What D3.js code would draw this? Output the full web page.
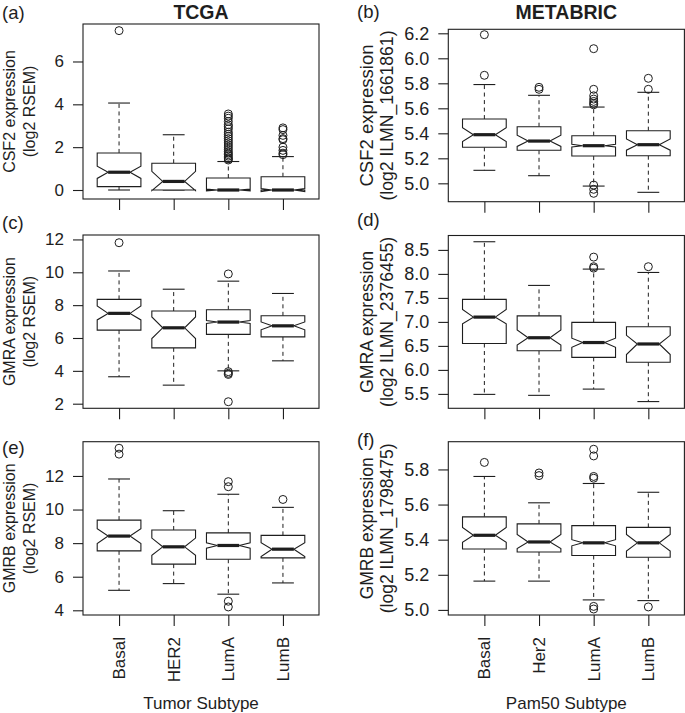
<!DOCTYPE html>
<html><head><meta charset="utf-8">
<script src="https://cdn.jsdelivr.net/npm/d3@7"></script>
<style>body{margin:0;background:#fff}svg{display:block}</style>
</head><body><svg id="c" width="685" height="713"></svg>
<script>
// ---------- DATA ----------
const tcgaGroups = ["Basal", "HER2", "LumA", "LumB"];
const metabricGroups = ["Basal", "Her2", "LumA", "LumB"];

// box stats per group: [lower whisker, Q1, median, Q3, upper whisker]
const csf2TcgaStats = [[0.0, 0.16, 0.83, 1.73, 4.06], [0.0, 0.0, 0.40, 1.25, 2.58], [0, 0, 0, 0.56, 1.33], [0, 0, 0, 0.62, 1.56]];
const csf2TcgaConf = [[0.54, 1.11], [-0.03, 0.87], [-0.04, 0.04], [-0.07, 0.07]];
const csf2TcgaOut = [[7.44], [], [3.55, 3.45, 3.35, 3.2, 3.05, 2.95, 2.85, 2.7, 2.6, 2.5, 2.4, 2.3, 2.2, 2.1, 2.0, 1.9, 1.8, 1.72, 1.65, 1.58, 1.5, 1.45, 1.4], [2.9, 2.82, 2.55, 2.4, 2.35, 2.0, 1.85, 1.72, 1.65]];
const csf2TcgaTicks = [0, 2, 4, 6];

const csf2MetaStats = [[5.104, 5.288, 5.389, 5.514, 5.79], [5.061, 5.264, 5.338, 5.453, 5.704], [4.978, 5.218, 5.301, 5.381, 5.61], [4.928, 5.221, 5.309, 5.421, 5.728]];
const csf2MetaConf = [[5.335, 5.445], [5.295, 5.385], [5.29, 5.312], [5.265, 5.355]];
const csf2MetaOut = [[6.189, 5.864], [5.768, 5.752], [6.077, 5.752, 5.70, 5.674, 5.655, 5.64, 5.628, 4.986, 4.952, 4.92], [5.84, 5.752]];
const csf2MetaTicks = [5.0, 5.2, 5.4, 5.6, 5.8, 6.0, 6.2];

const gmraTcgaStats = [[3.64, 6.48, 7.5, 8.35, 10.08], [3.13, 5.40, 6.62, 7.64, 8.97], [4.0, 6.22, 6.97, 7.72, 9.46], [4.61, 6.07, 6.74, 7.35, 8.71]];
const gmraTcgaConf = [[7.1, 7.95], [5.97, 7.28], [6.88, 7.06], [6.5, 6.98]];
const gmraTcgaOut = [[11.8], [], [9.9, 3.95, 3.85, 3.78, 2.12], []];
const gmraTcgaTicks = [2, 4, 6, 8, 10, 12];

const gmraMetaStats = [[5.49, 6.55, 7.10, 7.47, 8.67], [5.47, 6.40, 6.67, 7.125, 7.76], [5.60, 6.26, 6.57, 6.99, 8.10], [5.34, 6.16, 6.54, 6.90, 8.03]];
const gmraMetaConf = [[6.96, 7.26], [6.52, 6.83], [6.47, 6.66], [6.32, 6.72]];
const gmraMetaOut = [[], [], [8.35, 8.15, 8.12], [8.15]];
const gmraMetaTicks = [5.5, 6.0, 6.5, 7.0, 7.5, 8.0, 8.5];

const gmrbTcgaStats = [[5.19, 7.54, 8.42, 9.37, 11.82], [5.59, 6.75, 7.78, 8.78, 9.93], [4.96, 7.04, 7.86, 8.61, 10.91], [5.63, 7.12, 7.64, 8.46, 10.13]];
const gmrbTcgaConf = [[7.98, 8.86], [7.28, 8.3], [7.7, 8.02], [7.2, 8.02]];
const gmrbTcgaOut = [[13.65, 13.3], [], [11.66, 11.36, 4.54, 4.2], [10.6]];
const gmrbTcgaTicks = [4, 6, 8, 10, 12];

const gmrbMetaStats = [[5.164, 5.347, 5.425, 5.53, 5.76], [5.164, 5.33, 5.387, 5.49, 5.61], [5.057, 5.31, 5.382, 5.48, 5.72], [5.053, 5.30, 5.382, 5.47, 5.67]];
const gmrbMetaConf = [[5.385, 5.47], [5.35, 5.43], [5.365, 5.40], [5.335, 5.43]];
const gmrbMetaOut = [[5.84], [5.78, 5.765], [5.915, 5.877, 5.76, 5.75, 5.02, 5.005], [5.017]];
const gmrbMetaTicks = [5.0, 5.2, 5.4, 5.6, 5.8];

// ---------- LAYOUT ----------
const svg = d3.select("#c");
const ink = "#1e1e1e";
const FONT = "'Liberation Sans', Arial, Helvetica, sans-serif";

const cols = [
  {x0: 83, x1: 319, tickFont: 17, labFont: 16, lab1: 15, lab2: 34.5, len: null, tickFmt: d3.format("d"), groups: tcgaGroups, title: "TCGA", xtitle: "Tumor Subtype", plx: 2},
  {x0: 448.3, x1: 684.4, tickFont: 18, labFont: 17.5, lab1: 373, lab2: 393, len: [142, 170], tickFmt: d3.format(".1f"), groups: metabricGroups, title: "METABRIC", xtitle: "Pam50 Subtype", plx: 357}
];

const panels = [
  {tag: "(a)", col: 0, y0: 24, y1: 199, dom: [-0.42, 7.75], stats: csf2TcgaStats, conf: csf2TcgaConf, out: csf2TcgaOut, ticks: csf2TcgaTicks, ylab: ["CSF2 expression", "(log2 RSEM)"], tagY: 19, xlabels: false},
  {tag: "(b)", col: 1, y0: 29.3, y1: 201.7, dom: [4.853, 6.232], stats: csf2MetaStats, conf: csf2MetaConf, out: csf2MetaOut, ticks: csf2MetaTicks, ylab: ["CSF2 expression", "(log2 ILMN_1661861)"], tagY: 18, xlabels: false},
  {tag: "(c)", col: 0, y0: 235, y1: 408.3, dom: [1.72, 12.27], stats: gmraTcgaStats, conf: gmraTcgaConf, out: gmraTcgaOut, ticks: gmraTcgaTicks, ylab: ["GMRA expression", "(log2 RSEM)"], tagY: 229, xlabels: false},
  {tag: "(d)", col: 1, y0: 235.5, y1: 408.3, dom: [5.20, 8.80], stats: gmraMetaStats, conf: gmraMetaConf, out: gmraMetaOut, ticks: gmraMetaTicks, ylab: ["GMRA expression", "(log2 ILMN_2376455)"], tagY: 226, xlabels: false},
  {tag: "(e)", col: 0, y0: 441.7, y1: 615, dom: [3.72, 14.04], stats: gmrbTcgaStats, conf: gmrbTcgaConf, out: gmrbTcgaOut, ticks: gmrbTcgaTicks, ylab: ["GMRB expression", "(log2 RSEM)"], tagY: 454, xlabels: true},
  {tag: "(f)", col: 1, y0: 441.7, y1: 615, dom: [4.971, 5.958], stats: gmrbMetaStats, conf: gmrbMetaConf, out: gmrbMetaOut, ticks: gmrbMetaTicks, ylab: ["GMRB expression", "(log2 ILMN_1798475)"], tagY: 446, xlabels: true}
];

panels.forEach(p => {
  const c = cols[p.col];
  const x = d3.scaleLinear().domain([0.34, 4.66]).range([c.x0, c.x1]);
  const y = d3.scaleLinear().domain(p.dom).range([p.y1, p.y0]);
  const g = svg.append("g");
  const half = 0.4, nf = 0.5, staple = 0.2;

  p.stats.forEach((s, i) => {
    const cx = i + 1;
    const [lw, q1, med, q3, uw] = s;
    const [c1, c2] = p.conf[i];
    g.append("line").attr("x1", x(cx)).attr("x2", x(cx)).attr("y1", y(q3)).attr("y2", y(uw))
      .attr("stroke", ink).attr("stroke-width", 1).attr("stroke-dasharray", "4,3.5");
    g.append("line").attr("x1", x(cx)).attr("x2", x(cx)).attr("y1", y(q1)).attr("y2", y(lw))
      .attr("stroke", ink).attr("stroke-width", 1).attr("stroke-dasharray", "4,3.5");
    [uw, lw].forEach(v => g.append("line").attr("x1", x(cx - staple)).attr("x2", x(cx + staple))
      .attr("y1", y(v)).attr("y2", y(v)).attr("stroke", ink).attr("stroke-width", 1.1));
    const xs = [-1, 1, 1, nf, 1, 1, -1, -1, -nf, -1].map(k => x(cx + half * k));
    const ys = [q1, q1, c1, med, c2, q3, q3, c2, med, c1].map(v => y(v));
    g.append("path").attr("d", "M" + xs.map((xv, k) => xv + "," + ys[k]).join("L") + "Z")
      .attr("fill", "#fff").attr("stroke", ink).attr("stroke-width", 1.1).attr("stroke-linejoin", "miter");
    g.append("line").attr("x1", x(cx - half * nf)).attr("x2", x(cx + half * nf)).attr("y1", y(med)).attr("y2", y(med))
      .attr("stroke", ink).attr("stroke-width", 3.2);
    p.out[i].forEach(v => g.append("circle").attr("cx", x(cx)).attr("cy", y(v)).attr("r", 4)
      .attr("fill", "none").attr("stroke", ink).attr("stroke-width", 1));
  });

  g.append("rect").attr("x", c.x0).attr("y", p.y0).attr("width", c.x1 - c.x0).attr("height", p.y1 - p.y0)
    .attr("fill", "none").attr("stroke", ink).attr("stroke-width", 1.1);

  const ya = g.append("g").attr("transform", `translate(${c.x0},0)`)
    .call(d3.axisLeft(y).tickValues(p.ticks).tickFormat(c.tickFmt).tickSize(10).tickPadding(9));
  ya.select(".domain").remove();
  ya.selectAll("line").attr("stroke", ink).attr("stroke-width", 1.1);
  ya.selectAll("text").attr("font-family", FONT).attr("font-size", c.tickFont).attr("fill", ink);
  ya.attr("font-size", null).attr("font-family", null);

  const xa = g.append("g").attr("transform", `translate(0,${p.y1})`)
    .call(d3.axisBottom(x).tickValues([1, 2, 3, 4]).tickSize(11).tickFormat(""));
  xa.select(".domain").remove();
  xa.selectAll("line").attr("stroke", ink).attr("stroke-width", 1.1);
  if (p.xlabels) {
    c.groups.forEach((name, i) => {
      g.append("text").attr("transform", `translate(${x(i + 1)},${p.y1 + 22}) rotate(-90)`)
        .attr("text-anchor", "end").attr("dy", "0.36em")
        .attr("font-family", FONT).attr("font-size", 17).attr("fill", ink).text(name);
    });
    g.append("text").attr("x", (c.x0 + c.x1) / 2).attr("y", 709).attr("text-anchor", "middle")
      .attr("font-family", FONT).attr("font-size", 17).attr("fill", ink).text(c.xtitle);
  }

  const ym = (p.y0 + p.y1) / 2;
  [c.lab1, c.lab2].forEach((lx, k) => {
    const t = g.append("text").attr("transform", `translate(${lx},${ym}) rotate(-90)`).attr("text-anchor", "middle")
      .attr("font-family", FONT).attr("font-size", c.labFont).attr("fill", ink).text(p.ylab[k]);
    if (c.len) t.attr("textLength", c.len[k]).attr("lengthAdjust", "spacingAndGlyphs");
  });

  g.append("text").attr("x", c.plx).attr("y", p.tagY).attr("font-family", FONT).attr("font-size", 18.5)
    .attr("fill", ink).text(p.tag);
});

cols.forEach(c => {
  svg.append("text").attr("x", (c.x0 + c.x1) / 2).attr("y", 19).attr("text-anchor", "middle")
    .attr("font-family", FONT).attr("font-weight", "bold").attr("font-size", 19.5).attr("fill", ink).text(c.title);
});
</script></body></html>
